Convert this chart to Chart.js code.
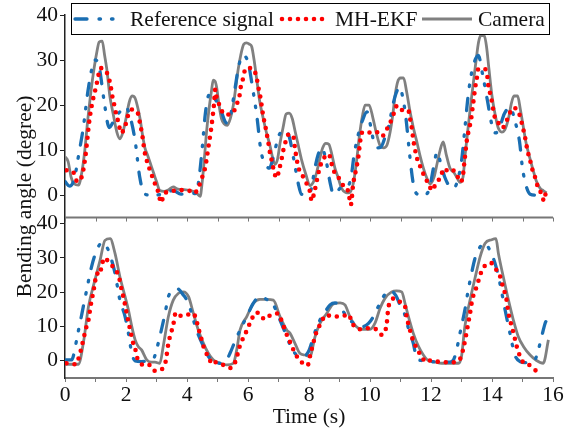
<!DOCTYPE html>
<html>
<head>
<meta charset="utf-8">
<script src="https://cdn.jsdelivr.net/npm/chart.js@4.4.1/dist/chart.umd.min.js"></script>
<style>
    html, body { margin: 0; padding: 0; background: #fff; }
    #wrap { width: 580px; height: 432px; }
</style>
</head>
<body>
<div id="wrap"><canvas id="grafico" width="580" height="432"></canvas></div>
<script>
// eixos
const xTicks = [0, 1, 2, 3, 4, 5, 6, 7, 8, 9, 10, 11, 12, 13, 14, 15, 16]
const yTicks = [0, 10, 20, 30, 40]
const legendLabels = ['Reference signal', 'MH-EKF', 'Camera']

// painel de cima
const topRefT = [0, 0.15, 0.3, 0.45, 0.6, 0.75, 0.88, 1.0, 1.12, 1.28, 1.45, 1.6, 1.8, 2.0, 2.15, 2.3, 2.45, 2.6, 2.8, 3.2, 3.55, 3.8, 4.1, 4.3, 4.4, 4.5, 4.6, 4.7, 4.8, 4.95, 5.1, 5.3, 5.42, 5.57, 5.7, 5.85, 6.0, 6.17, 6.3, 6.42, 6.55, 6.7, 6.85, 7.0, 7.2, 7.35, 7.5, 7.65, 7.75, 7.95, 8.08, 8.18, 8.3, 8.42, 8.55, 8.7, 8.8, 8.95, 9.1, 9.28, 9.38, 9.48, 9.6, 9.75, 9.9, 10.0, 10.12, 10.25, 10.35, 10.5, 10.62, 10.75, 10.85, 10.97, 11.08, 11.18, 11.3, 11.42, 11.55, 11.8, 11.95, 12.08, 12.2, 12.32, 12.45, 12.6, 12.75, 12.9, 13.0, 13.1, 13.2, 13.3, 13.42, 13.55, 13.7, 13.85, 14.0, 14.12, 14.25, 14.4, 14.6, 14.75, 14.9, 15.0, 15.12, 15.25, 15.45, 15.6]
const topRefV = [3, 2, 3.5, 9, 15, 23, 28, 30, 28.5, 21, 15, 16.5, 18.5, 19.5, 17, 12, 4, 0.3, 0, 0.2, 1, 0.2, 0.5, 0.3, 4, 10.5, 18, 22, 22.5, 21, 19, 16, 17.5, 23.5, 28.8, 31, 29.5, 23, 17, 10, 7, 6, 9, 13, 14.5, 13, 8, 2.5, 0.2, 0, 1.5, 5.5, 9, 10.5, 8, 2.5, 0.2, 1, 2, 2.1, 4, 9, 13, 16.5, 18.5, 16, 12, 10.5, 10.6, 13, 15.5, 20, 22.5, 24, 21.5, 17, 9, 2.5, 0.2, 0, 1.5, 6, 9.5, 7, 4, 2, 1.5, 4, 7.5, 14, 21, 26, 29.5, 31, 26.5, 21, 15.5, 13.8, 15, 18, 19.5, 16.5, 12, 6, 2, 0.2, 0, 0]

const topEkfT = [0.05, 0.27, 0.4, 0.55, 0.66, 0.73, 0.8, 0.88, 0.95, 1.02, 1.09, 1.15, 1.29, 1.42, 1.5, 1.55, 1.62, 1.68, 1.75, 1.84, 1.97, 2.08, 2.19, 2.38, 2.46, 2.55, 2.6, 2.68, 2.75, 2.84, 2.95, 3.06, 3.15, 3.25, 3.44, 3.72, 4.01, 4.24, 4.4, 4.5, 4.6, 4.67, 4.73, 4.78, 4.83, 4.88, 4.93, 4.97, 5.08, 5.22, 5.41, 5.57, 5.65, 5.72, 5.76, 5.82, 5.93, 6.07, 6.17, 6.28, 6.34, 6.4, 6.45, 6.5, 6.56, 6.61, 6.67, 6.72, 6.8, 6.85, 6.94, 7.03, 7.1, 7.16, 7.24, 7.32, 7.42, 7.49, 7.54, 7.65, 7.76, 7.87, 7.98, 8.05, 8.08, 8.2, 8.33, 8.42, 8.52, 8.63, 8.69, 8.74, 8.8, 8.91, 9.02, 9.13, 9.24, 9.32, 9.37, 9.45, 9.56, 9.62, 9.67, 9.73, 9.84, 10.0, 10.16, 10.27, 10.38, 10.49, 10.6, 10.71, 10.79, 10.89, 11.04, 11.15, 11.26, 11.31, 11.37, 11.42, 11.48, 11.53, 11.59, 11.69, 11.75, 11.86, 11.97, 12.02, 12.13, 12.24, 12.35, 12.4, 12.51, 12.62, 12.73, 12.84, 12.95, 13.04, 13.09, 13.17, 13.22, 13.28, 13.33, 13.37, 13.41, 13.44, 13.5, 13.55, 13.66, 13.77, 13.85, 13.88, 13.93, 13.98, 14.04, 14.1, 14.21, 14.32, 14.43, 14.5, 14.59, 14.7, 14.81, 14.92, 15.0, 15.08, 15.16, 15.25, 15.33, 15.41, 15.49, 15.57, 15.65, 15.7, 15.77]
const topEkfV = [5.5, 5.1, 3, 4.1, 8.1, 12.3, 16.6, 20, 22.2, 24.1, 26.4, 28.2, 27.9, 26.4, 24.1, 22, 19.9, 17.9, 16.2, 13.8, 15.3, 17.9, 19, 18.3, 15.9, 12.6, 10, 7.7, 6.2, 4.5, 2.5, 0.6, -1.7, 0.3, 0.75, 1.1, 1.1, 0.4, 2.1, 4, 6.2, 9.2, 11.9, 14.1, 16.8, 19.8, 23.5, 21.7, 19.8, 17.9, 17.9, 19, 20.5, 22, 23.9, 25.4, 28.2, 28.2, 28, 26.2, 23.9, 22, 19.8, 17.5, 15.6, 13.8, 11.5, 9.4, 7, 5.3, 3.8, 5.9, 7.9, 10, 12, 13.4, 13.5, 13, 10.4, 6.2, 4.7, 3.2, 1.7, 0.2, -1.3, 1.4, 5.5, 7.4, 8.5, 9.1, 8.5, 7, 5.5, 4.7, 3.2, 2.1, 1.7, -0.5, -2.2, 2.5, 6.2, 8.5, 11.5, 13.8, 14.1, 13.9, 14.1, 13.8, 13, 13.8, 15.3, 16.8, 18.3, 19.9, 18.9, 19, 18.8, 17.1, 14.9, 12.3, 10, 8.5, 7, 5.9, 4.7, 3.2, 1.7, 1, 2.1, 3.2, 4.7, 5.9, 5.5, 5.9, 5.5, 4.7, 2.9, 4, 7, 11.9, 13.8, 15.6, 17.5, 19.8, 21.7, 23.5, 25.8, 28, 28, 28, 26.2, 24.3, 22.8, 21.3, 19, 17.1, 16, 14.9, 15.6, 16.8, 18.3, 19.4, 19, 17.5, 15.3, 13, 10, 7.7, 5.5, 4, 2.1, 1, -0.2, -1.3, 0.8]

const topCamT = [0, 0.1, 0.2, 0.3, 0.44, 0.55, 0.65, 0.75, 0.85, 0.95, 1.05, 1.12, 1.22, 1.3, 1.37, 1.47, 1.58, 1.7, 1.8, 1.9, 2.0, 2.1, 2.2, 2.3, 2.4, 2.46, 2.55, 2.62, 2.7, 2.8, 2.9, 3.0, 3.11, 3.25, 3.4, 3.55, 3.7, 3.9, 4.1, 4.3, 4.43, 4.5, 4.58, 4.64, 4.72, 4.8, 4.86, 4.92, 4.97, 5.05, 5.13, 5.22, 5.32, 5.42, 5.52, 5.6, 5.68, 5.76, 5.86, 5.95, 6.05, 6.12, 6.2, 6.28, 6.38, 6.5, 6.6, 6.72, 6.8, 6.89, 6.97, 7.05, 7.15, 7.25, 7.35, 7.45, 7.55, 7.65, 7.75, 7.9, 8.03, 8.15, 8.25, 8.35, 8.45, 8.55, 8.65, 8.75, 8.85, 8.95, 9.07, 9.2, 9.32, 9.45, 9.55, 9.65, 9.75, 9.84, 9.97, 10.1, 10.2, 10.33, 10.45, 10.55, 10.66, 10.75, 10.82, 10.9, 11.0, 11.1, 11.2, 11.3, 11.42, 11.53, 11.65, 11.75, 11.85, 11.97, 12.1, 12.2, 12.3, 12.4, 12.5, 12.62, 12.75, 12.84, 12.95, 13.05, 13.12, 13.2, 13.3, 13.39, 13.48, 13.56, 13.64, 13.75, 13.82, 13.9, 14.0, 14.1, 14.2, 14.32, 14.42, 14.54, 14.64, 14.72, 14.84, 14.93, 15.03, 15.12, 15.25, 15.35, 15.46, 15.58, 15.68, 15.79]
const topCamV = [8.5, 7.5, 4, 2.5, 2.2, 5, 10, 17, 23, 28, 32, 34, 34.2, 31, 28, 22, 18, 14, 12.5, 14, 17, 20.5, 22, 21.5, 19, 17, 13, 10.5, 9, 7, 5, 3, 1, 0.8, 1.2, 1.8, 1.3, 1.2, 1.0, 0.5, -0.3, 3, 9, 14, 19, 23, 25.5, 25.3, 24, 20, 17, 15.8, 15.5, 17, 20, 24, 28, 31, 33.5, 33.8, 33.5, 33, 30, 26, 21, 17, 14, 11, 8.5, 6.8, 8, 11.5, 15, 18, 18.2, 17, 14, 11, 8, 4.5, 2.1, 3, 5, 8, 10.5, 11.5, 11.3, 9, 6, 4, 1.5, 0.6, 0.5, 2.5, 7, 13, 17.5, 20, 20, 17, 14, 11, 10.5, 11, 14, 18, 22, 25, 26, 26, 23, 19, 15, 12, 8.5, 6, 4, 2.5, 4, 7, 10, 11.8, 9, 6, 5, 4, 2.8, 4, 9, 14, 20, 25, 30, 34, 35.5, 35.3, 33, 28, 22, 18, 15, 14, 14.5, 17, 20.5, 22, 22, 19, 15, 11.5, 8, 5.5, 3, 1.5, 1, 0.5]

// painel de baixo
const botRefT = [0, 0.22, 0.33, 0.4, 0.49, 0.6, 0.71, 0.87, 1.04, 1.2, 1.37, 1.53, 1.64, 1.8, 1.97, 2.08, 2.19, 2.3, 2.51, 2.75, 2.9, 3.0, 3.11, 3.28, 3.39, 3.55, 3.68, 3.88, 4.05, 4.21, 4.37, 4.54, 4.7, 4.86, 5.08, 5.3, 5.41, 5.57, 5.74, 5.96, 6.17, 6.39, 6.61, 6.83, 7.05, 7.27, 7.38, 7.54, 7.7, 7.87, 8.0, 8.08, 8.2, 8.36, 8.53, 8.69, 8.85, 9.0, 9.15, 9.28, 9.4, 9.56, 9.78, 9.95, 10.11, 10.27, 10.44, 10.55, 10.66, 10.85, 11.0, 11.09, 11.26, 11.42, 11.53, 11.69, 11.97, 12.3, 12.62, 12.75, 12.84, 12.95, 13.11, 13.22, 13.33, 13.44, 13.55, 13.72, 13.83, 13.93, 14.1, 14.26, 14.43, 14.59, 14.75, 14.92, 15.08, 15.25, 15.41, 15.52, 15.63, 15.74, 15.8]
const botRefV = [0.3, 0.3, 3.7, 7.1, 10.9, 15.8, 20.6, 27.4, 32.2, 34.3, 33.2, 29.3, 25.5, 17.7, 12.9, 8, 2.2, 0, -0.2, 0, 0.5, 3.2, 7.1, 13.8, 18.7, 20.6, 21, 19.2, 16.7, 11.9, 7.6, 4.2, 1.3, 0, -0.7, 0.3, 2.2, 5.6, 9, 12.9, 16.7, 18.7, 17.9, 16.3, 11.9, 7.1, 4.6, 2.2, 1.3, 1.5, 3, 5.1, 8.5, 11.9, 14.3, 16.3, 16.9, 16, 14, 12.2, 11.4, 10.5, 10, 10.9, 12.9, 15.8, 18.7, 20.1, 20.5, 19, 16, 14.8, 9.5, 5.1, 0.8, 0.1, -0.2, -0.4, -0.4, 0.5, 3.2, 8, 14.8, 20.6, 25.5, 29.8, 32.2, 34.2, 33.7, 32.2, 28.4, 22.6, 14.8, 8, 1.7, -0.2, -0.5, -0.5, 0.3, 3.2, 7.1, 10.9, 12]

const botEkfT = [0.05, 0.36, 0.47, 0.55, 0.62, 0.69, 0.77, 0.82, 0.87, 0.93, 0.98, 1.04, 1.13, 1.2, 1.29, 1.48, 1.67, 1.78, 1.85, 1.91, 1.97, 2.03, 2.09, 2.15, 2.22, 2.3, 2.35, 2.44, 2.55, 2.73, 2.92, 3.14, 3.3, 3.39, 3.46, 3.55, 3.63, 3.77, 3.93, 4.07, 4.21, 4.32, 4.39, 4.48, 4.54, 4.62, 4.73, 4.81, 4.95, 5.19, 5.43, 5.61, 5.68, 5.76, 5.9, 6.01, 6.12, 6.2, 6.28, 6.39, 6.54, 6.72, 6.99, 7.1, 7.21, 7.32, 7.43, 7.54, 7.76, 7.95, 8.05, 8.15, 8.23, 8.36, 8.47, 8.58, 8.74, 8.91, 9.13, 9.29, 9.38, 9.45, 9.67, 9.95, 10.2, 10.38, 10.49, 10.55, 10.58, 10.63, 10.82, 10.98, 11.15, 11.2, 11.28, 11.37, 11.48, 11.59, 11.69, 11.84, 11.97, 12.19, 12.46, 12.73, 13.0, 13.06, 13.12, 13.17, 13.22, 13.28, 13.33, 13.41, 13.5, 13.61, 13.74, 13.97, 14.15, 14.29, 14.37, 14.46, 14.54, 14.62, 14.72, 14.81, 14.92, 15.03, 15.19, 15.39, 15.6]
const botEkfV = [-0.7, -1, 1.5, 4.2, 6.9, 9.5, 11.9, 14.8, 17.5, 20.1, 22.7, 25.5, 25, 27.5, 30, 28.2, 26.4, 24, 21, 18.7, 16.3, 13.5, 10.9, 8.5, 5.6, 3.7, 1.3, 0.1, -1.2, -1, -2.9, -2.6, -0.2, 5.1, 7.6, 10.5, 14, 13.1, 13.6, 13.5, 13.8, 11.4, 9, 6.1, 4.2, 2.4, 0.8, -1, -0.4, -1.2, -2.1, 0.3, 2.7, 5.1, 7.6, 10, 11.9, 13.8, 14, 13.8, 12.1, 13.2, 13.8, 11.7, 9, 6.6, 4.5, 2.2, -0.4, -1.4, 2, 5.5, 8, 10.5, 12.4, 13.4, 12.9, 12.9, 13.1, 13.6, 12, 10.5, 9.2, 9.5, 9.2, 7.6, 8.5, 10.9, 13.8, 16.6, 18.2, 17.2, 15.8, 12.9, 10, 7.1, 4.6, 2.7, 1.3, -0.4, 0.1, -0.2, -0.4, -0.4, 1.3, 3.7, 6, 8.5, 10.9, 13.8, 16.7, 19.7, 21.6, 25, 27.4, 28.5, 26.4, 24, 21.1, 18.7, 13.8, 10.9, 7.6, 4.2, 1.3, -0.5, -1, -2.6, -3.3]

const botCamT = [0, 0.44, 0.6, 0.77, 0.98, 1.15, 1.31, 1.48, 1.64, 1.8, 1.97, 2.08, 2.19, 2.3, 2.4, 2.51, 2.68, 2.84, 2.95, 3.11, 3.22, 3.39, 3.55, 3.72, 3.88, 4.05, 4.21, 4.37, 4.54, 4.7, 4.86, 5.08, 5.3, 5.52, 5.63, 5.74, 5.96, 6.17, 6.39, 6.61, 6.83, 7.05, 7.27, 7.38, 7.54, 7.7, 7.87, 8.03, 8.2, 8.36, 8.58, 8.8, 9.02, 9.18, 9.34, 9.5, 9.73, 10.0, 10.16, 10.33, 10.49, 10.71, 10.87, 11.04, 11.15, 11.26, 11.42, 11.59, 11.75, 11.91, 12.08, 12.35, 12.62, 12.9, 13.0, 13.11, 13.28, 13.44, 13.61, 13.77, 13.99, 14.13, 14.21, 14.37, 14.54, 14.7, 14.86, 15.03, 15.25, 15.46, 15.68, 15.85]
const botCamV = [-1, -1, 5.1, 15.8, 23.5, 29.3, 35.1, 35.6, 31.3, 24.5, 18.7, 14.8, 10, 6.1, 4.2, 3.2, 0.3, -0.4, -0.4, -0.7, 4.2, 12.9, 17.7, 19.7, 20.1, 18.7, 13.8, 9, 5.1, 2.2, 0.3, -0.7, -1.2, -0.7, 3.2, 9, 12.9, 16.7, 17.9, 17.9, 17.7, 12.9, 9, 8, 5.1, 2.2, 1.7, 1.3, 7.1, 10.9, 13.8, 16.6, 16.9, 16.3, 12.9, 10.5, 9.2, 9.2, 10.9, 15.3, 18.2, 20.1, 20.4, 20.1, 16.7, 12.9, 8, 4.2, 1.7, 0.1, -0.2, -0.7, -0.7, -0.7, 1.3, 10, 17.7, 24, 30.3, 34.2, 35.3, 35.6, 31.3, 24.5, 17.7, 11.9, 7.1, 4.2, 1.7, 0.1, -0.7, 6.1]

const FONTE = '"Liberation Serif", "Times New Roman", serif'
const TAM = 21.5
Chart.defaults.font.family = FONTE
Chart.defaults.font.size = TAM
Chart.defaults.color = '#111'

const corRef = '#1a6eb2'
const corEkf = '#ff0000'
const corCam = '#808080'
const dashRef = [12, 12, 1.5, 11, 1.5, 12]
const dashEkf = [0, 8]

function pontos(t, v) {
    return t.map((x, i) => ({ x: x, y: v[i] }))
}

function serie(label, t, v, eixo, tipo) {
    let dataset = {
        label: label,
        data: pontos(t, v),
        yAxisID: eixo,
        pointRadius: 0,
        fill: false,
        cubicInterpolationMode: 'monotone'
    }
    if (tipo == 'ref') {
        dataset.borderColor = corRef
        dataset.borderWidth = 3.3
        dataset.borderDash = dashRef
        dataset.borderCapStyle = 'round'
    } else if (tipo == 'ekf') {
        dataset.borderColor = corEkf
        dataset.borderWidth = 4.6
        dataset.borderDash = dashEkf
        dataset.borderCapStyle = 'round'
    } else {
        dataset.borderColor = corCam
        dataset.borderWidth = 2.8
        dataset.borderJoinStyle = 'round'
    }
    return dataset
}

// linha entre os paineis + legenda + titulo do eixo y
const molduraELegenda = {
    id: 'molduraELegenda',
    afterDraw(chart) {
        const ctx = chart.ctx
        const x = chart.scales.x
        const yTop = chart.scales.yTop
        const area = chart.chartArea

        ctx.save()
        // eixo x do painel de cima
        ctx.strokeStyle = '#777'
        ctx.lineWidth = 2
        ctx.beginPath()
        ctx.moveTo(x.left, yTop.bottom)
        ctx.lineTo(x.right, yTop.bottom)
        ctx.stroke()
        ctx.lineWidth = 1
        xTicks.forEach(v => {
            const px = Math.round(x.getPixelForValue(v)) + 0.5
            ctx.beginPath()
            ctx.moveTo(px, yTop.bottom)
            ctx.lineTo(px, yTop.bottom + 4)
            ctx.stroke()
        })

        // legenda
        ctx.fillStyle = '#fff'
        ctx.fillRect(71.5, 3.5, 478, 31)
        ctx.strokeStyle = '#000'
        ctx.lineWidth = 1
        ctx.strokeRect(71.5, 3.5, 478, 31)

        const ly = 19
        const amostras = [
            { cor: corRef, largura: 3.3, dash: dashRef, de: 75, ate: 114, texto: 130 },
            { cor: corEkf, largura: 4.6, dash: dashEkf, de: 282, ate: 328, texto: 335 },
            { cor: corCam, largura: 2.8, dash: [], de: 422, ate: 472, texto: 478 }
        ]
        amostras.forEach((a, i) => {
            ctx.strokeStyle = a.cor
            ctx.lineWidth = a.largura
            ctx.lineCap = a.dash.length ? 'round' : 'butt'
            ctx.setLineDash(a.dash)
            ctx.beginPath()
            ctx.moveTo(a.de, ly)
            ctx.lineTo(a.ate, ly)
            ctx.stroke()
            ctx.setLineDash([])
            ctx.fillStyle = '#111'
            ctx.font = TAM + 'px ' + FONTE
            ctx.textAlign = 'left'
            ctx.textBaseline = 'middle'
            ctx.fillText(legendLabels[i], a.texto, ly + 1)
        })

        // titulo do eixo y, centrado nos dois paineis
        ctx.translate(25, (area.top + area.bottom) / 2)
        ctx.rotate(-Math.PI / 2)
        ctx.textAlign = 'center'
        ctx.textBaseline = 'middle'
        ctx.fillText('Bending angle (degree)', 0, 0)
        ctx.restore()
    }
}

function eixoY(min, max, peso) {
    return {
        type: 'linear',
        position: 'left',
        stack: 'paineis',
        stackWeight: peso,
        min: min,
        max: max,
        afterBuildTicks: s => { s.ticks = yTicks.map(v => ({ value: v })) },
        afterFit: s => { s.width = 65 },
        ticks: { padding: 2, color: '#111', autoSkip: false },
        grid: { drawOnChartArea: false, tickLength: 5, color: '#222', lineWidth: 1 },
        border: { color: '#222', width: 1.5 }
    }
}

window.grafico = new Chart(document.getElementById('grafico'), {
    type: 'line',
    data: {
        datasets: [
            serie(legendLabels[1], topEkfT, topEkfV, 'yTop', 'ekf'),
            serie(legendLabels[0], topRefT, topRefV, 'yTop', 'ref'),
            serie(legendLabels[2], topCamT, topCamV, 'yTop', 'cam'),
            serie(legendLabels[1], botEkfT, botEkfV, 'yBot', 'ekf'),
            serie(legendLabels[0], botRefT, botRefV, 'yBot', 'ref'),
            serie(legendLabels[2], botCamT, botCamV, 'yBot', 'cam')
        ]
    },
    options: {
        responsive: false,
        animation: false,
        devicePixelRatio: 1,
        layout: {
            padding: { left: 0, right: 27, top: 15, bottom: 0 }
        },
        plugins: {
            legend: { display: false },
            tooltip: { enabled: false }
        },
        scales: {
            x: {
                type: 'linear',
                min: 0,
                max: 16,
                afterBuildTicks: s => { s.ticks = xTicks.map(v => ({ value: v })) },
                afterFit: s => { s.height = 54 },
                ticks: {
                    autoSkip: false,
                    maxRotation: 0,
                    padding: 0,
                    color: '#111',
                    callback: function (value) {
                        return value % 2 === 0 ? String(value) : ''
                    }
                },
                grid: { drawOnChartArea: false, tickLength: 4, color: '#777' },
                border: { color: '#777', width: 2 },
                title: {
                    display: true,
                    text: 'Time (s)',
                    color: '#111',
                    padding: { top: 0, bottom: 2 }
                }
            },
            yBot: eixoY(-5, 41.75, 160),
            yTop: eixoY(-5, 40, 202)
        }
    },
    plugins: [molduraELegenda]
})
</script>
</body>
</html>
